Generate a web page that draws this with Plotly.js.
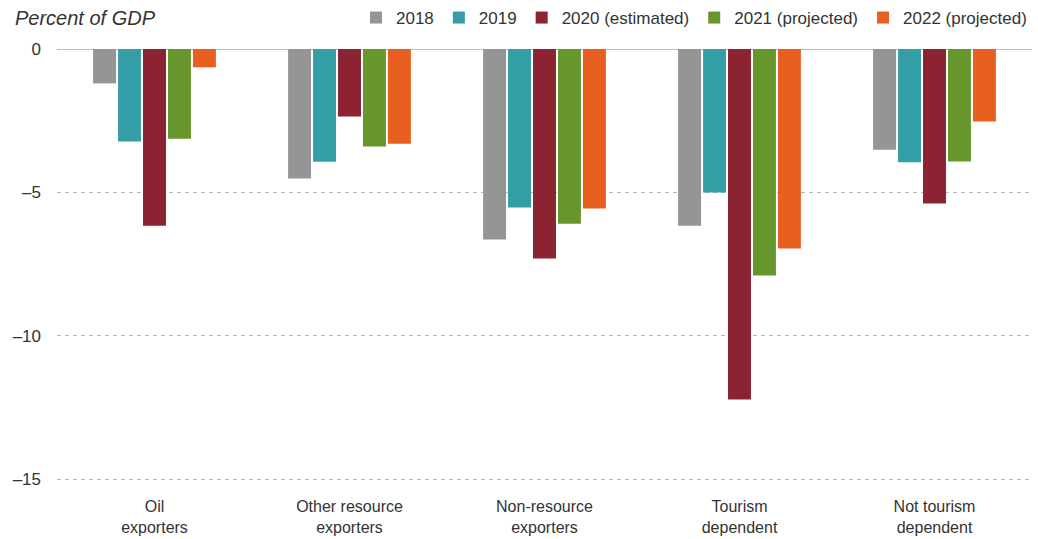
<!DOCTYPE html>
<html>
<head>
<meta charset="utf-8">
<script src="https://cdn.plot.ly/plotly-3.0.1.min.js"></script>
<style>html,body{margin:0;padding:0;background:#fff;}#chart{width:1038px;height:539px;}</style>
</head>
<body>
<div id="chart"></div>
<script>
const categories = ["Oil<br>exporters", "Other resource<br>exporters", "Non-resource<br>exporters", "Tourism<br>dependent", "Not tourism<br>dependent"];
const seriesNames = ["2018", "2019", "2020 (estimated)", "2021 (projected)", "2022 (projected)"];
const seriesColors = ["#959598", "#339ea5", "#8b2332", "#67962d", "#e86020"];
const v2018 = [-1.20, -4.52, -6.64, -6.16, -3.51];
const v2019 = [-3.23, -3.93, -5.53, -5.00, -3.95];
const v2020 = [-6.16, -2.35, -7.31, -12.22, -5.39];
const v2021 = [-3.13, -3.40, -6.09, -7.90, -3.92];
const v2022 = [-0.64, -3.30, -5.56, -6.96, -2.53];
const yTickVals = [0, -5, -10, -15];
const yTickText = ["0", "–5", "–10", "–15"];

const values = [v2018, v2019, v2020, v2021, v2022];
const font = "Liberation Sans, Arial, sans-serif";
const traces = values.map((v, i) => ({
  type: "bar",
  name: seriesNames[i],
  x: categories,
  y: v,
  marker: {color: seriesColors[i], line: {width: 0}},
  hoverinfo: "none"
}));

const layout = {
  width: 1038, height: 539,
  margin: {l: 57, r: 6, t: 49, b: 57},
  paper_bgcolor: "#fff", plot_bgcolor: "#fff",
  barmode: "group",
  bargap: 0.36,
  bargroupgap: 0.08,
  font: {family: font, size: 17, color: "#333"},
  showlegend: true,
  legend: {
    orientation: "h", x: 1.0, xanchor: "right", y: 1, yanchor: "top",
    yref: "container",
    font: {family: font, size: 17, color: "#333"},
    itemwidth: 30, tracegroupgap: 0, traceorder: "normal",
    bgcolor: "rgba(0,0,0,0)"
  },
  xaxis: {
    showgrid: false, zeroline: false, showline: false, ticks: "",
    ticklabelstandoff: 13,
    tickfont: {family: font, size: 16, color: "#333"},
    fixedrange: true
  },
  yaxis: {
    range: [-15.1, 0],
    tickvals: yTickVals, ticktext: yTickText,
    showgrid: true, gridcolor: "#bdbdbd", griddash: "4px,4px", gridwidth: 1,
    zeroline: false, showline: false, ticks: "",
    ticklabelstandoff: 15,
    tickfont: {family: font, size: 17, color: "#333"},
    fixedrange: true
  },
  shapes: [{
    type: "line", xref: "paper", yref: "y", x0: 0, x1: 1, y0: 0, y1: 0,
    line: {color: "#aaaaaa", width: 1.5}, layer: "below"
  }],
  annotations: [{
    text: "<i>Percent of GDP</i>", xref: "paper", yref: "paper",
    x: -0.045, y: 1, xanchor: "left", yanchor: "bottom", yshift: 18,
    showarrow: false, font: {family: font, size: 20, color: "#333"}
  }]
};

Plotly.newPlot("chart", traces, layout, {displayModeBar: false, staticPlot: true});
</script>
</body>
</html>
